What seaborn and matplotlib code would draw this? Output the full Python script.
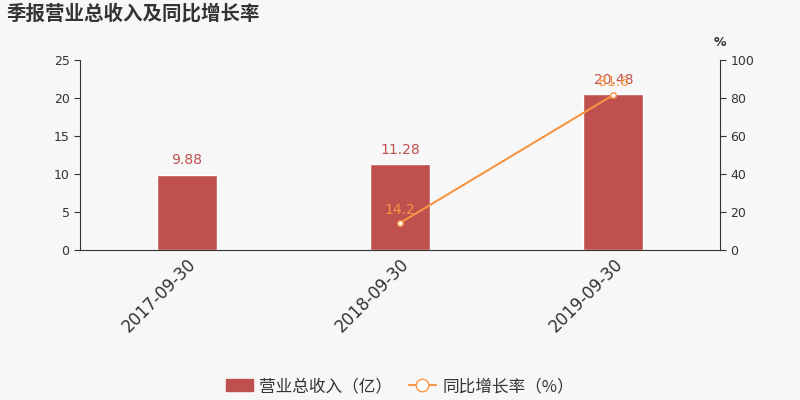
import matplotlib
matplotlib.use("Agg")
import matplotlib.pyplot as plt
import seaborn as sns
import pandas as pd
from matplotlib.lines import Line2D
from matplotlib.patches import Patch

sns.set_style("white")
plt.rcParams['font.family'] = ['DejaVu Sans', 'Noto Sans CJK SC']

dates = ["2017-09-30", "2018-09-30", "2019-09-30"]
revenue = [9.88, 11.28, 20.48]
growth = [None, 14.2, 81.6]

bar_color = "#c0504d"
line_color = "#f79646"
bg = "#f7f7f7"

df = pd.DataFrame({"date": dates, "revenue": revenue, "growth": growth})

fig = plt.figure(figsize=(8, 4), dpi=100, facecolor=bg)
ax = fig.add_axes([0.1, 0.375, 0.8, 0.475], facecolor=bg)
sns.barplot(x="date", y="revenue", data=df, color=bar_color, width=0.28,
            saturation=1, ax=ax)
ax.set_xlim(-0.5, 2.5)
ax.set_ylim(0, 25)
ax.set_yticks([0, 5, 10, 15, 20, 25])
ax.set_xlabel("")
ax.set_ylabel("")
for i, v in enumerate(revenue):
    ax.text(i, v + 1, f"{v:g}", ha="center", va="bottom", color=bar_color, fontsize=10)

ax2 = ax.twinx()
sub = df.dropna()
ax2.plot([dates.index(d) for d in sub["date"]], sub["growth"], color=line_color,
         lw=1.5, marker="o", ms=4, mfc="white", mec=line_color, mew=1)
ax2.set_ylim(0, 100)
ax2.set_yticks([0, 20, 40, 60, 80, 100])
for d, g in zip(sub["date"], sub["growth"]):
    ax2.text(dates.index(d), g + 3, f"{g:g}", ha="center", va="bottom",
             color=line_color, fontsize=10)
ax2.text(1.0, 1.06, "%", transform=ax2.transAxes, ha="center", va="bottom",
         fontsize=9, fontweight="bold", color="#333333")

for a in (ax, ax2):
    a.spines["top"].set_visible(False)
    a.tick_params(colors="#333333", labelsize=9, length=4)
ax.spines["right"].set_visible(False)
ax2.spines["left"].set_visible(False)
ax2.spines["bottom"].set_visible(False)
for s in ["left", "bottom"]:
    ax.spines[s].set_color("#333333")
ax2.spines["right"].set_color("#333333")

ax.set_xticks([0, 1, 2])
ax.set_xticklabels(dates, rotation=45, ha="right", rotation_mode="anchor",
                   fontsize=12, color="#333333")
ax.tick_params(axis="x", length=0, pad=4)
ax.set_xticks([-0.5, 0.5, 1.5, 2.5], minor=True)
ax.tick_params(axis="x", which="minor", length=4, color="#333333")

fig.text(0.008, 0.965, "季报营业总收入及同比增长率", fontsize=14,
         fontweight="bold", color="#333333", ha="left", va="center",
         family=["Noto Sans CJK SC", "DejaVu Sans"])

handles = [
    Patch(facecolor=bar_color, edgecolor=bar_color, label="营业总收入（亿）"),
    Line2D([0], [0], color=line_color, marker="o", mfc="white", ms=9,
           label="同比增长率（%）"),
]
fig.legend(handles=handles, loc="lower center", bbox_to_anchor=(0.5, -0.025), ncol=2,
           frameon=False, handlelength=1.6, columnspacing=1.0,
           handletextpad=0.4, labelcolor="#333333",
           prop={"family": ["Noto Sans CJK SC", "DejaVu Sans"], "size": 12})

fig.savefig("out.png", dpi=100, facecolor=bg)
